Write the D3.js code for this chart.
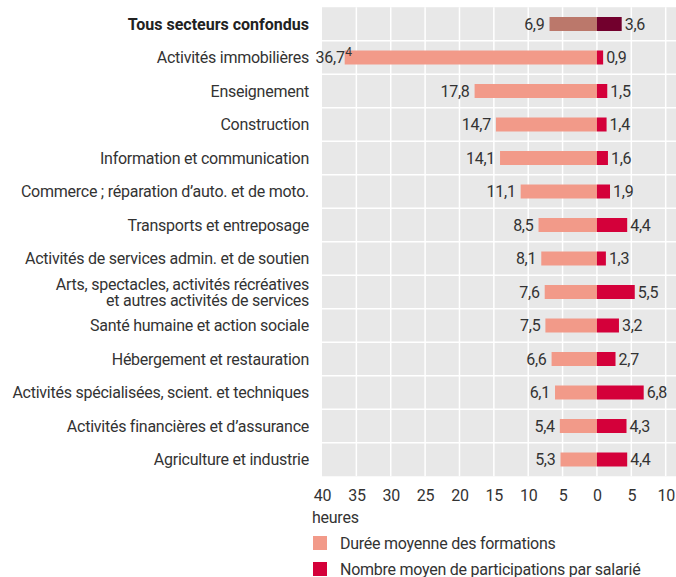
<!DOCTYPE html>
<meta charset="utf-8">
<script src="https://d3js.org/d3.v7.min.js"></script>
<style>
  body { margin: 0; background: #fff; }
  text { font-family: Roboto, sans-serif; letter-spacing: -0.25px; }
</style>
<body>
<script>
// data
var categories = [
  "Tous secteurs confondus",
  "Activités immobilières",
  "Enseignement",
  "Construction",
  "Information et communication",
  "Commerce ; réparation d’auto. et de moto.",
  "Transports et entreposage",
  "Activités de services admin. et de soutien",
  "Arts, spectacles, activités récréatives|et autres activités de services",
  "Santé humaine et action sociale",
  "Hébergement et restauration",
  "Activités spécialisées, scient. et techniques",
  "Activités financières et d’assurance",
  "Agriculture et industrie"
];
var duree = [6.9, 36.7, 17.8, 14.7, 14.1, 11.1, 8.5, 8.1, 7.6, 7.5, 6.6, 6.1, 5.4, 5.3];
var participations = [3.6, 0.9, 1.5, 1.4, 1.6, 1.9, 4.4, 1.3, 5.5, 3.2, 2.7, 6.8, 4.3, 4.4];
var notes = ["", "4", "", "", "", "", "", "", "", "", "", "", "", ""];
var ticks = [-40, -35, -30, -25, -20, -15, -10, -5, 0, 5, 10];
var legendLabels = ["Durée moyenne des formations", "Nombre moyen de participations par salarié"];

var W = 676, H = 577;
var plotL = 322, plotR = 676, plotT = 7.25, plotB = 476.25;

var svg = d3.select("body").append("svg")
  .attr("width", W).attr("height", H);

var x = d3.scaleLinear().domain([-40, 11.5]).range([plotL, plotR]);
var y = d3.scaleBand().domain(d3.range(categories.length)).range([plotT, plotB]);
var barH = 14;

var fmt = function(v) { return String(v).replace(".", ","); };

// background
svg.append("rect").attr("x", plotL).attr("y", plotT)
  .attr("width", plotR - plotL).attr("height", plotB - plotT)
  .style("fill", "#e8e8e8");

// vertical grid
svg.selectAll("line.vg").data(ticks.slice(1)).enter().append("line")
  .attr("class", "vg")
  .attr("x1", function(d) { return x(d); }).attr("x2", function(d) { return x(d); })
  .attr("y1", plotT).attr("y2", plotB)
  .style("stroke", "#fff").style("stroke-width", 1.5);

// horizontal separators
svg.selectAll("line.hg").data(d3.range(1, categories.length)).enter().append("line")
  .attr("class", "hg")
  .attr("x1", plotL).attr("x2", plotR)
  .attr("y1", function(d) { return y(d); }).attr("y2", function(d) { return y(d); })
  .style("stroke", "#fff").style("stroke-width", 1.5);

var rows = d3.range(categories.length);
var cy = function(i) { return y(i) + y.bandwidth() / 2; };

// duration bars (to the left)
svg.selectAll("rect.dur").data(rows).enter().append("rect")
  .attr("class", "dur")
  .attr("x", function(i) { return x(-duree[i]); })
  .attr("y", function(i) { return cy(i) - barH / 2; })
  .attr("width", function(i) { return x(0) - x(-duree[i]); })
  .attr("height", barH)
  .style("fill", function(i) { return i === 0 ? "#bb786b" : "#f29a89"; });

// participation bars (to the right)
svg.selectAll("rect.part").data(rows).enter().append("rect")
  .attr("class", "part")
  .attr("x", x(0))
  .attr("y", function(i) { return cy(i) - barH / 2; })
  .attr("width", function(i) { return x(participations[i]) - x(0); })
  .attr("height", barH)
  .style("fill", function(i) { return i === 0 ? "#72002d" : "#d4003a"; });

// value labels
svg.selectAll("text.dl").data(rows).enter().append("text")
  .attr("class", "dl")
  .attr("x", function(i) { return x(-duree[i]) - (notes[i] ? 0 : 5); })
  .attr("y", cy)
  .attr("dy", "0.36em")
  .attr("text-anchor", "end")
  .style("font-size", "16px").style("fill", "#333")
  .text(function(i) { return fmt(duree[i]); });

svg.selectAll("text.note").data(rows.filter(function(i) { return notes[i]; })).enter().append("text")
  .attr("class", "note")
  .attr("x", function(i) { return x(-duree[i]) + 0.5; })
  .attr("y", function(i) { return cy(i) - 1.5; })
  .style("font-size", "12px").style("fill", "#333")
  .text(function(i) { return notes[i]; });

svg.selectAll("text.pl").data(rows).enter().append("text")
  .attr("class", "pl")
  .attr("x", function(i) { return x(participations[i]) + 3; })
  .attr("y", cy)
  .attr("dy", "0.36em")
  .style("font-size", "16px").style("fill", "#333")
  .text(function(i) { return fmt(participations[i]); });

// category labels
var cl = svg.selectAll("text.cat").data(rows).enter().append("text")
  .attr("class", "cat")
  .attr("x", 309)
  .attr("y", cy)
  .attr("text-anchor", "end")
  .style("font-size", "16px")
  .style("font-weight", function(i) { return i === 0 ? "bold" : "normal"; })
  .style("letter-spacing", function(i) { return i === 0 ? "0px" : "-0.25px"; })
  .style("fill", function(i) { return i === 0 ? "#222" : "#333"; });

cl.each(function(i) {
  var parts = categories[i].split("|");
  var t = d3.select(this);
  parts.forEach(function(p, k) {
    t.append("tspan").attr("x", 309)
      .attr("dy", k === 0 ? (0.36 - (parts.length - 1) * 0.5) + "em" : "1em")
      .text(p);
  });
});

// x axis
var axis = svg.append("g").attr("transform", "translate(0," + (plotB + 9) + ")")
  .call(d3.axisBottom(x).tickValues(ticks).tickSize(0).tickPadding(4)
    .tickFormat(function(d) { return Math.abs(d); }));
axis.select(".domain").remove();
axis.selectAll("text").style("font-size", "16px").style("fill", "#333")
  .style("font-family", "Roboto, sans-serif");

svg.append("text").attr("x", 312).attr("y", 523)
  .style("font-size", "16px").style("fill", "#333").text("heures");

// legend
var legendColors = ["#f29a89", "#d4003a"];
var lg = svg.selectAll("g.lg").data(legendLabels).enter().append("g")
  .attr("class", "lg")
  .attr("transform", function(d, i) { return "translate(313," + (536 + i * 26) + ")"; });
lg.append("rect").attr("width", 14).attr("height", 14)
  .style("fill", function(d, i) { return legendColors[i]; });
lg.append("text").attr("x", 27).attr("y", 7).attr("dy", "0.36em")
  .style("font-size", "16px").style("fill", "#333")
  .text(function(d) { return d; });
</script>
</body>
